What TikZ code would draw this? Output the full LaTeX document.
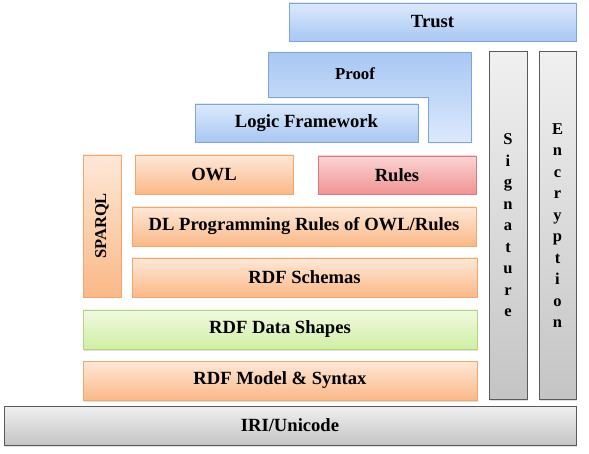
\documentclass[tikz,border=0pt]{standalone}
\usepackage{fontspec}
\setmainfont{Liberation Serif}
\usetikzlibrary{shadows}

\definecolor{bluetop}{HTML}{DCE9FC}
\definecolor{bluebot}{HTML}{A8C7F3}
\definecolor{blueline}{HTML}{7EA5DA}
\definecolor{orgtop}{HTML}{FEE8D8}
\definecolor{orgbot}{HTML}{FAB887}
\definecolor{orgline}{HTML}{F4A56A}
\definecolor{redtop}{HTML}{FBD3D3}
\definecolor{redbot}{HTML}{F09494}
\definecolor{redline}{HTML}{D47C7C}
\definecolor{grntop}{HTML}{F1F9E1}
\definecolor{grnbot}{HTML}{D0EFA3}
\definecolor{grnline}{HTML}{B0D67C}
\definecolor{graytop}{HTML}{F0F0F0}
\definecolor{graybot}{HTML}{C4C4C4}
\definecolor{grayline}{HTML}{5A5A5A}

\begin{document}
\begin{tikzpicture}[x=1pt, y=-1pt,
    layer/.style={draw, line width=0.8pt, inner sep=0pt,
      font=\fontsize{18.6}{20}\selectfont\bfseries,
      drop shadow={opacity=0.25, shadow xshift=1pt, shadow yshift=-1.5pt}},
    bluebox/.style={layer, draw=blueline, top color=bluetop, bottom color=bluebot},
    orgbox/.style={layer, draw=orgline, top color=orgtop, bottom color=orgbot},
    redbox/.style={layer, draw=redline, top color=redtop, bottom color=redbot},
    grnbox/.style={layer, draw=grnline, top color=grntop, bottom color=grnbot},
    graybox/.style={layer, draw=grayline, line width=1pt, top color=graytop, bottom color=graybot},
    vbox/.style={graybox, align=center, minimum width=38, minimum height=347,
      font=\fontsize{16.5}{21.5}\selectfont\bfseries}]
  \useasboundingbox (0,0) rectangle (589,454);

  %% top of the stack
  \node[bluebox, minimum width=287, minimum height=38] (trust) at (432.5,22) {Trust};
  \shade[draw=blueline, line width=0.8pt, top color=bluebot, bottom color=bluetop,
      drop shadow={opacity=0.25, shadow xshift=1pt, shadow yshift=-1.5pt}]
    (268,52) -- (471,52) -- (471,142) -- (428,142) -- (428,97) -- (268,97) -- cycle;
  \node[font=\fontsize{16.8}{18}\selectfont\bfseries] (proof) at (355,74) {Proof};
  \node[bluebox, minimum width=223, minimum height=38] (logic) at (306.5,123) {Logic Framework};

  %% side columns
  \node[vbox] (sig) at (508,225.5) {S\\i\\g\\n\\a\\t\\u\\r\\e};
  \node[vbox, minimum width=37] (enc) at (557.5,225.5) {E\\n\\c\\r\\y\\p\\t\\i\\o\\n};
  \node[orgbox, minimum width=38, minimum height=142] (sparql) at (102,226) {};
  \node[rotate=90, font=\fontsize{16.5}{18}\selectfont\bfseries] (sparqltxt) at (sparql.center) {SPARQL};

  %% middle layers
  \node[orgbox, minimum width=158, minimum height=39] (owl) at (214,174.5) {OWL};
  \node[redbox, minimum width=158, minimum height=38] (rules) at (397,175) {Rules};
  \node[orgbox, minimum width=344, minimum height=39] (dl) at (304,226.5) {DL Programming Rules of OWL/Rules};
  \node[orgbox, minimum width=345, minimum height=39] (schemas) at (304.5,277.5) {RDF Schemas};

  %% bottom layers
  \node[grnbox, minimum width=394, minimum height=39] (shapes) at (280,329.5) {RDF Data Shapes};
  \node[orgbox, minimum width=394, minimum height=39] (model) at (280,380.5) {RDF Model \& Syntax};
  \node[graybox, minimum width=572, minimum height=39] (iri) at (290,425.5) {IRI/Unicode};
\end{tikzpicture}
\end{document}
